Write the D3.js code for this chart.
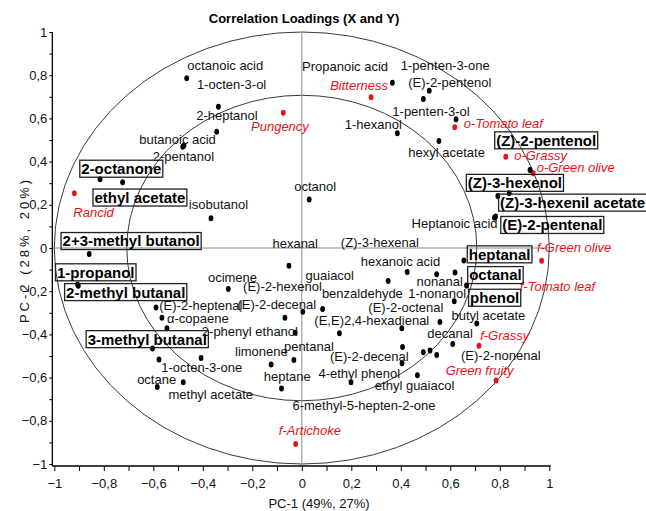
<!DOCTYPE html>
<html>
<head>
<meta charset="utf-8">
<script src="https://cdn.jsdelivr.net/npm/d3@7"></script>
<style>
  html, body { margin: 0; padding: 0; background: #fff; }
  svg { display: block; font-family: "Liberation Sans", Arial, sans-serif; }
  .lbl { white-space: pre; }
</style>
</head>
<body>
<svg id="chart" width="646" height="511"></svg>
<script>
// ---- Volatile compounds (X variables): loadings on PC-1 / PC-2 ----
const compounds = [
  "octanoic acid", "1-octen-3-ol", "2-heptanol", "butanoic acid", "2-pentanol",
  "2-octanone", "ethyl acetate", "isobutanol", "octanol", "Propanoic acid",
  "1-penten-3-one", "(E)-2-pentenol", "1-penten-3-ol", "1-hexanol", "hexyl acetate",
  "(Z)-2-pentenol", "(Z)-3-hexenol", "(Z)-3-hexenil acetate", "(E)-2-pentenal", "Heptanoic acid",
  "2+3-methyl butanol", "1-propanol", "2-methyl butanal", "(E)-2-heptenal", "α-copaene",
  "2-phenyl ethanol", "3-methyl butanal", "1-octen-3-one", "octane", "methyl acetate",
  "", "hexanal", "ocimene", "(E)-2-hexenol", "(E)-2-decenal",
  "guaiacol", "benzaldehyde", "(E,E)2,4-hexadienal", "(Z)-3-hexenal", "pentanal",
  "limonene", "heptane", "4-ethyl phenol", "(E)-2-decenal", "ethyl guaiacol",
  "6-methyl-5-hepten-2-one", "hexanoic acid", "nonanal", "1-nonanol", "heptanal",
  "octanal", "phenol", "(E)-2-octenal", "butyl acetate", "decanal",
  "(E)-2-nonenal", "", "", ""
];
const compoundPc1 = [
  -0.465, -0.337, -0.344, -0.481, -0.476,
  -0.815, -0.724, -0.367, 0.030, 0.366,
  0.515, 0.491, 0.623, 0.386, 0.554,
  0.922, 0.838, 0.792, 0.783, 0.778,
  -0.859, -0.906, -0.903, -0.589, -0.565,
  -0.545, -0.603, -0.407, -0.584, -0.479,
  -0.577, -0.052, -0.297, -0.068, -0.027,
  0.004, 0.084, 0.152, 0.349, -0.032,
  -0.124, -0.082, 0.199, 0.407, 0.467,
  0.405, 0.426, 0.545, 0.619, 0.655,
  0.666, 0.616, 0.404, 0.707, 0.610,
  0.545, 0.558, 0.491, 0.518
];
const compoundPc2 = [
  0.786, 0.654, 0.538, 0.469, 0.475,
  0.318, 0.304, 0.138, 0.225, 0.765,
  0.728, 0.690, 0.596, 0.531, 0.495,
  0.361, 0.253, 0.241, 0.146, 0.140,
  -0.028, -0.169, -0.175, -0.276, -0.323,
  -0.372, -0.465, -0.509, -0.644, -0.622,
  -0.516, -0.082, -0.190, -0.323, -0.392,
  -0.295, -0.282, -0.395, -0.153, -0.519,
  -0.539, -0.650, -0.622, -0.458, -0.589,
  -0.534, -0.111, -0.121, -0.114, -0.058,
  -0.174, -0.247, -0.372, -0.349, -0.444,
  -0.495, -0.343, -0.483, -0.474
];
// Key odour-active compounds, shown framed
const keyCompounds = [
  "2-octanone", "ethyl acetate", "2+3-methyl butanol", "1-propanol", "2-methyl butanal",
  "3-methyl butanal", "(Z)-2-pentenol", "(Z)-3-hexenol", "(Z)-3-hexenil acetate",
  "(E)-2-pentenal", "heptanal", "octanal", "phenol"
];

// ---- Sensory attributes (Y variables) ----
const attributes = [
  "Rancid", "Pungency", "Bitterness", "o-Tomato leaf", "o-Grassy", "o-Green olive",
  "f-Green olive", "f-Tomato leaf", "f-Grassy", "Green fruity", "f-Artichoke"
];
const attributePc1 = [-0.919, -0.075, 0.280, 0.618, 0.824, 0.935, 0.969, 0.666, 0.716, 0.785, -0.025];
const attributePc2 = [0.253, 0.626, 0.698, 0.559, 0.423, 0.346, -0.059, -0.174, -0.453, -0.614, -0.907];

// Axis ticks
const tickValues = d3.range(-10, 11).map(d => d / 10);
const labelledTicks = [-1, -0.8, -0.6, -0.4, -0.2, 0, 0.2, 0.4, 0.6, 0.8, 1];

// ---- Label placement (pixel offset of label centre from its point) ----
const compoundLabelOffset = [
  [38.6, -12.6], [13.2, -22.7], [10.3, -16], [-5.2, -7.4], [-0.5, 11.2],
  [21.2, -10.6], [17.3, 15.2], [7.5, -13.3], [6, -12.6], [-47.3, -16],
  [16, -25.7], [26.5, -16.3], [-25, -7.6], [-24.1, -9.3], [7.7, 11.3],
  [16.2, -29.7], [5.7, -10.5], [74.8, 6.7], [56.7, 8.5], [-39.8, 5.6],
  [41.9, -13], [18.2, -12.2], [47.4, 6.3], [44.8, -2], [35.8, 0.6],
  [83, 3.4], [-5.3, -9.3], [0.7, 9.7], [-0.6, -7.7], [27.5, 12],
  [0, 0], [6.3, -22.4], [4.2, -11.7], [-2.5, -31], [-18.3, -28.4],
  [27, -36.7], [39.8, -15.7], [32.4, -12.6], [-8.3, -38.7], [15, -14],
  [-9.7, -12.8], [5.7, -11.6], [8.2, -9], [-33.2, 9.7], [-2.8, 9.7],
  [-38, 41.7], [-6.8, -10.3], [3, 7.5], [-17.8, 20.6], [35.7, -6.2],
  [28.8, -10.5], [40.4, -3.6], [4.1, -20.6], [11.6, -7.6], [-2.7, -10.7],
  [64.1, 0.7], [0, 0], [0, 0], [0, 0]
];
const attributeLabelOffset = [
  [19.2, 19.4], [-3.3, 14], [-12, -11.6], [48.6, -4], [34.8, -1], [42.5, -5.6],
  [32.5, -13.4], [90.8, 1.2], [25.7, -10], [-16.5, -10.7], [14.3, -13.3]
];

// ---- Drawing ----
const svg = d3.select("#chart");
const x = d3.scaleLinear().domain([-1, 1]).range([54.3, 549.3]);
const y = d3.scaleLinear().domain([-1, 1]).range([464, 32]);
const axisX = 52.3, axisY = 466;
const fmt = v => (Math.abs(v) < 1e-9 ? "0" : d3.format("")(+v.toFixed(1)).replace(".", ","));
const isLabelled = v => labelledTicks.some(t => Math.abs(t - v) < 1e-9);

// title
svg.append("text")
  .attr("x", 304).attr("y", 23)
  .attr("text-anchor", "middle")
  .attr("font-size", 13).attr("font-weight", "bold")
  .text("Correlation Loadings (X and Y)");

// correlation circles (100% and 50% explained variance)
[1, Math.SQRT1_2].forEach(r => {
  svg.append("ellipse")
    .attr("cx", x(0)).attr("cy", y(0))
    .attr("rx", x(r) - x(0)).attr("ry", y(0) - y(r))
    .attr("fill", "none").attr("stroke", "#3a3a3a").attr("stroke-width", 1);
});

// zero reference lines
svg.append("line")
  .attr("x1", x(0)).attr("x2", x(0)).attr("y1", y(1)).attr("y2", axisY)
  .attr("stroke", "#8a8a8a").attr("stroke-width", 1);
svg.append("line")
  .attr("x1", axisX).attr("x2", x(1)).attr("y1", y(0)).attr("y2", y(0))
  .attr("stroke", "#8a8a8a").attr("stroke-width", 1);

// axes
const gx = svg.append("g").attr("transform", `translate(0,${axisY})`)
  .call(d3.axisBottom(x).tickValues(tickValues).tickSize(5).tickPadding(7.5)
    .tickFormat(v => isLabelled(v) ? fmt(v) : ""));
const gy = svg.append("g").attr("transform", `translate(${axisX},0)`)
  .call(d3.axisLeft(y).tickValues(tickValues).tickSize(3).tickPadding(2)
    .tickFormat(v => isLabelled(v) ? fmt(v) : ""));
[gx, gy].forEach(g => {
  g.select(".domain").remove();
  g.selectAll("line").attr("stroke", "#000");
  g.selectAll("text").attr("font-size", 13).attr("font-family", "Liberation Sans, Arial, sans-serif").attr("fill", "#111");
});
svg.append("line").attr("x1", axisX).attr("x2", x(1) + 1.5).attr("y1", axisY).attr("y2", axisY)
  .attr("stroke", "#000").attr("stroke-width", 1.3);
svg.append("line").attr("x1", axisX).attr("x2", axisX).attr("y1", y(1)).attr("y2", axisY)
  .attr("stroke", "#000").attr("stroke-width", 1.3);

// axis titles
svg.append("text")
  .attr("x", 319).attr("y", 508)
  .attr("text-anchor", "middle").attr("font-size", 13).attr("fill", "#111")
  .text("PC-1 (49%, 27%)");
svg.append("text")
  .attr("transform", "translate(29,250) rotate(-90)")
  .attr("text-anchor", "middle").attr("font-size", 13).attr("fill", "#111")
  .attr("letter-spacing", 3)
  .text("PC-2 (28%, 20%)");

const red = "#e8101a";

// sensory attribute points
const attrData = attributes.map((name, i) => ({
  name, px: x(attributePc1[i]), py: y(attributePc2[i]), off: attributeLabelOffset[i]
}));
svg.append("g").selectAll("ellipse").data(attrData).join("ellipse")
  .attr("cx", d => d.px).attr("cy", d => d.py)
  .attr("rx", 2.4).attr("ry", 3)
  .attr("fill", red);

// compound points
const compData = compounds.map((name, i) => ({
  name, px: x(compoundPc1[i]), py: y(compoundPc2[i]), off: compoundLabelOffset[i],
  key: keyCompounds.includes(name)
}));
svg.append("g").selectAll("ellipse").data(compData).join("ellipse")
  .attr("cx", d => d.px).attr("cy", d => d.py)
  .attr("rx", 2.4).attr("ry", 3)
  .attr("fill", "#000");

// sensory attribute labels
svg.append("g").selectAll("text").data(attrData).join("text")
  .attr("class", "lbl")
  .attr("x", d => d.px + d.off[0]).attr("y", d => d.py + d.off[1] + 4.6)
  .attr("text-anchor", "middle")
  .attr("font-size", 13).attr("font-style", "italic")
  .attr("fill", red)
  .text(d => d.name);

// plain compound labels
svg.append("g").selectAll("text").data(compData.filter(d => d.name && !d.key)).join("text")
  .attr("class", "lbl")
  .attr("x", d => d.px + d.off[0]).attr("y", d => d.py + d.off[1] + 4.6)
  .attr("text-anchor", "middle")
  .attr("font-size", 13).attr("fill", "#111")
  .text(d => d.name);

// framed key-compound labels
const keyG = svg.append("g").selectAll("g").data(compData.filter(d => d.key)).join("g")
  .attr("transform", d => `translate(${d.px + d.off[0]},${d.py + d.off[1]})`);
keyG.append("text")
  .attr("class", "lbl")
  .attr("y", 5.4)
  .attr("text-anchor", "middle")
  .attr("font-size", 15).attr("font-weight", "bold").attr("fill", "#000")
  .text(d => d.name);
keyG.each(function () {
  const g = d3.select(this);
  const bb = g.select("text").node().getBBox();
  g.insert("rect", "text")
    .attr("x", bb.x - 1.5).attr("y", -8.5)
    .attr("width", bb.width + 3).attr("height", 17)
    .attr("fill", "none").attr("stroke", "#222").attr("stroke-width", 1.3);
});
</script>
</body>
</html>
